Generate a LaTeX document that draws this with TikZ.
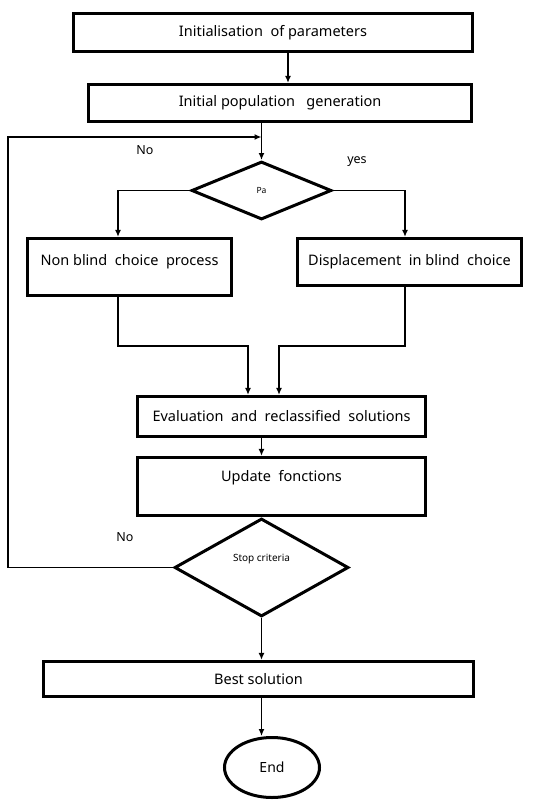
\documentclass[tikz,border=0pt]{standalone}
\usepackage{fontspec}
\setmainfont{Noto Sans}
\usetikzlibrary{arrows.meta,positioning,shapes}
\tikzstyle{bloc}=[
	rectangle,
	draw=black,
	line width=3.2pt,
	inner sep=2pt,
	font=\fontsize{14.5}{16}\selectfont]
\tikzstyle{decision}=[
	diamond,
	draw=black,
	line width=3pt,
	inner sep=0pt]
\tikzstyle{fin}=[
	ellipse,
	draw=black,
	line width=3pt,
	font=\fontsize{14}{16}\selectfont]
\tikzstyle{fleche}=[
	->,
	line width=1.3pt]
\tikzstyle{etiq}=[
	font=\fontsize{12.5}{14}\selectfont]

\begin{document}
\begin{tikzpicture}[x=1pt,y=-1pt,>={Latex[length=7pt,width=6pt]}]
	\useasboundingbox (0,0) rectangle (554,800);
	\begin{scope}[align=center]
		\node[bloc,minimum width=399,minimum height=38] (init) at (273,32.5) {Initialisation\ \ of parameters};
		\node[bloc,minimum width=383,minimum height=37] (popgen) at (280,103) {Initial population\ \ \ generation};
		\node[decision,aspect=2.3,minimum width=140,minimum height=58,font=\fontsize{8.5}{9}\selectfont] (pa) at (261.5,190.5) {Pa};
		\node[bloc,minimum width=204,minimum height=57,text height=10.5pt,text depth=14.5pt] (nonblind) at (129.5,267) {Non blind\ \ choice\ \ process};
		\node[bloc,minimum width=224,minimum height=47] (displ) at (409.5,262) {Displacement\ \ in blind\ \ choice};
		\node[bloc,minimum width=288,minimum height=40] (eval) at (281.5,416.5) {Evaluation\ \ and\ \ reclassified\ \ solutions};
		\node[bloc,minimum width=288,minimum height=58,text height=10.5pt,text depth=21.5pt] (update) at (281.5,486.5) {Update\ \ fonctions};
		\node[decision,aspect=1.75,minimum width=174,minimum height=98,text height=8pt,text depth=21pt,font=\fontsize{10}{11}\selectfont] (stop) at (261.5,567.5) {Stop criteria};
		\node[bloc,minimum width=430,minimum height=35] (best) at (258.5,679) {Best solution};
		\node[fin,minimum width=95,minimum height=60] (ende) at (272,767.5) {End};
	\end{scope}
	% etiquettes
	\node[etiq] (non1) at (145,150) {No};
	\node[etiq] (oui) at (357,162) {yes};
	\node[etiq] (non2) at (125,537) {No};
	% connexions
	\coordinate (retour) at (8,137);
	\draw[fleche] ([xshift=15pt]init.south) -- ([xshift=15pt]init.south |- popgen.north);
	\draw[fleche] (popgen.south -| pa.north) -- (pa.north);
	\draw[fleche] (pa.west) -| ([xshift=-11.5pt]nonblind.north);
	\draw[fleche] (pa.east) -| ([xshift=-4.5pt]displ.north);
	\draw[fleche] ([xshift=-11.5pt]nonblind.south) -- ++(0,49) -| ([xshift=-33.5pt]eval.north);
	\draw[fleche] ([xshift=-4.5pt]displ.south) -- ++(0,59) -| ([xshift=-2.5pt]eval.north);
	\draw[fleche] (eval.south -| stop.north) -- (update.north -| stop.north);
	\draw[fleche] (stop.west) -| (retour) -- (retour -| pa.north);
	\draw[fleche] (stop.south) -- (best.north -| stop.south);
	\draw[fleche] (best.south -| stop.south) -- (stop.south |- ende.north);
\end{tikzpicture}
\end{document}
